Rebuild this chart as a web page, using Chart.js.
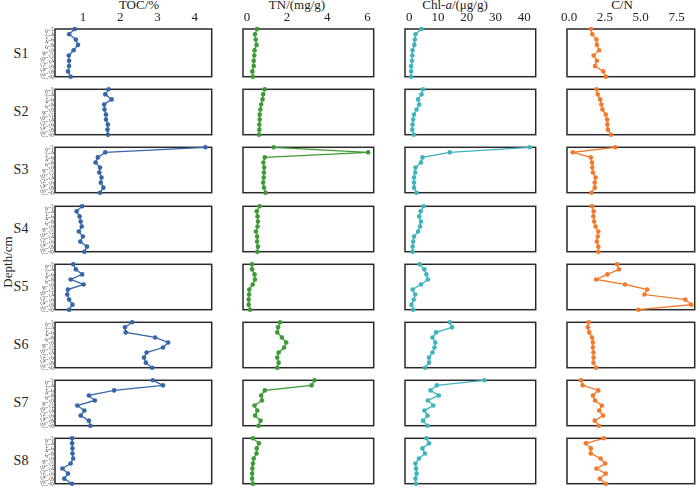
<!DOCTYPE html>
<html>
<head>
<meta charset="utf-8">
<script src="https://cdn.jsdelivr.net/npm/chart.js@4.4.1/dist/chart.umd.min.js"></script>
<style>
  body { margin: 0; background: #fff; }
  #wrap { position: relative; width: 700px; height: 488px; overflow: hidden;
          font-family: "Liberation Serif", "DejaVu Serif", serif; color: #222; }
  .panel { position: absolute; }
  .title { position: absolute; top: -3px; width: 160px; font-size: 13px; line-height: 15px; text-align: center; }
  .site { position: absolute; left: 0; width: 42px; font-size: 14px; line-height: 16px; text-align: center; }
  #ylab { position: absolute; left: -27px; top: 254px; width: 70px; height: 16px; font-size: 13px;
          line-height: 16px; text-align: center; transform: rotate(-90deg); }
</style>
</head>
<body>
<div id="wrap">
  <div class="title" style="left:59px">TOC/%</div>
  <div class="title" style="left:217px">TN/(mg/g)</div>
  <div class="title" style="left:375px">Chl-<i>a</i>/(μg/g)</div>
  <div class="title" style="left:542px">C/N</div>
  <div id="ylab">Depth/cm</div>
</div>
<script>
// depth intervals (cm) and sampling sites
const depths = ['0~2', '2~4', '4~6', '6~8', '8~10', '10~12', '12~14', '14~16', '16~18', '18~20'];
const sites = ['S1', 'S2', 'S3', 'S4', 'S5', 'S6', 'S7', 'S8'];

// TOC (%) per site, top to bottom
const tocValues = [
    [0.78, 0.63, 0.81, 0.87, 0.75, 0.62, 0.63, 0.63, 0.60, 0.67],
    [1.69, 1.60, 1.77, 1.57, 1.58, 1.62, 1.62, 1.67, 1.66, 1.67],
    [4.29, 1.60, 1.40, 1.34, 1.46, 1.44, 1.50, 1.48, 1.55, 1.46],
    [0.98, 0.83, 0.91, 0.94, 0.97, 0.89, 1.00, 0.93, 1.11, 1.04],
    [0.74, 0.81, 0.98, 0.67, 1.02, 0.60, 0.58, 0.63, 0.72, 0.63],
    [2.32, 2.13, 2.15, 2.94, 3.29, 3.15, 2.71, 2.64, 2.69, 2.86],
    [2.88, 3.15, 1.84, 1.16, 1.32, 0.85, 1.04, 0.94, 1.16, 1.20],
    [0.71, 0.71, 0.72, 0.72, 0.74, 0.67, 0.45, 0.60, 0.50, 0.71]
];

// TN (mg/g)
const tnValues = [
    [0.51, 0.40, 0.44, 0.48, 0.38, 0.37, 0.34, 0.34, 0.27, 0.29],
    [0.89, 0.81, 0.78, 0.71, 0.67, 0.64, 0.64, 0.62, 0.62, 0.60],
    [1.33, 6.03, 0.89, 0.82, 0.86, 0.85, 0.84, 0.81, 0.85, 0.93],
    [0.63, 0.49, 0.53, 0.55, 0.53, 0.45, 0.51, 0.51, 0.55, 0.52],
    [0.25, 0.26, 0.38, 0.40, 0.29, 0.12, 0.11, 0.09, 0.09, 0.16],
    [1.65, 1.55, 1.51, 1.74, 1.96, 1.85, 1.58, 1.51, 1.58, 1.51],
    [3.36, 3.22, 0.89, 0.71, 0.75, 0.38, 0.52, 0.41, 0.68, 0.58],
    [0.30, 0.60, 0.49, 0.48, 0.34, 0.30, 0.27, 0.26, 0.26, 0.30]
];

// Chl-a (ug/g)
const chlValues = [
    [4.3, 2.2, 2.0, 1.8, 1.2, 1.1, 1.0, 0.7, 0.7, 0.7],
    [4.8, 4.3, 3.1, 3.5, 2.6, 1.7, 1.4, 1.2, 1.1, 1.6],
    [41.9, 14.1, 4.6, 4.1, 2.2, 2.1, 1.7, 1.7, 1.7, 2.6],
    [5.0, 4.0, 3.5, 4.1, 3.8, 3.1, 1.7, 1.4, 1.2, 1.2],
    [3.6, 5.3, 6.0, 6.5, 4.1, 1.2, 2.1, 1.6, 0.8, 1.4],
    [14.2, 14.9, 9.4, 8.1, 9.1, 8.8, 8.1, 6.9, 6.9, 5.5],
    [26.1, 9.6, 7.4, 10.3, 6.5, 8.4, 5.3, 6.4, 4.8, 6.4],
    [6.0, 6.9, 4.6, 5.5, 3.4, 2.2, 2.4, 2.6, 2.2, 2.4]
];

// C/N
const cnValues = [
    [1.52, 1.62, 1.91, 1.94, 2.10, 1.71, 1.94, 1.81, 2.39, 2.57],
    [1.91, 2.00, 2.17, 2.25, 2.33, 2.56, 2.65, 2.67, 2.71, 2.94],
    [3.23, 0.26, 1.52, 1.60, 1.62, 1.66, 1.85, 1.79, 1.79, 1.56],
    [1.60, 1.71, 1.70, 1.75, 1.85, 2.04, 2.00, 1.94, 2.04, 2.04],
    [3.34, 3.48, 2.67, 1.89, 3.90, 5.45, 5.26, 8.11, 8.52, 4.84],
    [1.37, 1.31, 1.41, 1.60, 1.66, 1.66, 1.70, 1.71, 1.70, 1.89],
    [0.83, 0.95, 2.04, 1.66, 1.81, 2.29, 2.10, 2.37, 1.79, 2.08],
    [2.43, 1.18, 1.52, 1.51, 2.20, 2.52, 1.91, 2.56, 2.14, 2.57]
];

// top axis tick values
const tocTicks = [1, 2, 3, 4];
const tnTicks = [0, 2, 4, 6];
const chlTicks = [0, 10, 20, 30, 40];
const cnTicks = [0, 2.5, 5, 7.5];

const columns = [
    { values: tocValues, ticks: tocTicks, min: 0.251, max: 4.458, color: '#3567a8', left: 55, width: 159, fixed: false },
    { values: tnValues, ticks: tnTicks, min: -0.193, max: 6.309, color: '#3d9a35', left: 218, width: 158, fixed: false },
    { values: chlValues, ticks: chlTicks, min: -1.44, max: 43.97, color: '#3fb4bf', left: 380, width: 158, fixed: false },
    { values: cnValues, ticks: cnTicks, min: -0.144, max: 8.764, color: '#f27a2a', left: 542, width: 155, fixed: true }
];

const rowTop0 = 29;
const rowStep = 58.2;
const rowHeight = 50;
const yAxisWidth = 25;

// frame round each small plot
const boxPlugin = {
    id: 'box',
    beforeDatasetsDraw(chart) {
        const a = chart.chartArea;
        const ctx = chart.ctx;
        ctx.save();
        ctx.strokeStyle = '#2a2a2a';
        ctx.lineWidth = 1.5;
        ctx.strokeRect(a.left, a.top, a.right - a.left, a.bottom - a.top);
        ctx.restore();
    }
};

function noPadding(s) {
    s.paddingTop = 0;
    s.paddingBottom = 0;
    s.paddingLeft = 0;
    s.paddingRight = 0;
}

const wrap = document.getElementById('wrap');

sites.forEach(function(site, r) {
    const top = Math.round(rowTop0 + rowStep * r);

    const label = document.createElement('div');
    label.className = 'site';
    label.style.top = (top + rowHeight / 2 - 8) + 'px';
    label.textContent = site;
    wrap.appendChild(label);

    columns.forEach(function(col, c) {
        const div = document.createElement('div');
        div.className = 'panel';
        const divLeft = c === 0 ? col.left - yAxisWidth : col.left;
        const divTop = r === 0 ? 0 : top;
        div.style.left = divLeft + 'px';
        div.style.top = divTop + 'px';
        div.style.width = (col.left + col.width - divLeft) + 'px';
        div.style.height = (top + rowHeight - divTop) + 'px';
        const canvas = document.createElement('canvas');
        div.appendChild(canvas);
        wrap.appendChild(div);

        new Chart(canvas, {
            type: 'line',
            data: {
                labels: depths,
                datasets: [{
                    data: col.values[r],
                    borderColor: col.color,
                    backgroundColor: col.color,
                    borderWidth: 1.3,
                    pointRadius: 2.3,
                    pointHoverRadius: 2.3,
                    pointBorderWidth: 0,
                    tension: 0
                }]
            },
            options: {
                indexAxis: 'y',
                animation: false,
                responsive: true,
                maintainAspectRatio: false,
                layout: { padding: 0 },
                plugins: {
                    legend: { display: false },
                    tooltip: { enabled: false }
                },
                scales: {
                    x: {
                        type: 'linear',
                        position: 'top',
                        display: r === 0,
                        min: col.min,
                        max: col.max,
                        grid: { display: false, drawTicks: false },
                        border: { display: false },
                        afterBuildTicks: function(s) {
                            s.ticks = col.ticks.map(v => ({ value: v }));
                        },
                        ticks: {
                            color: '#222',
                            padding: 4,
                            maxRotation: 0,
                            font: { family: '"Liberation Serif", serif', size: 13 },
                            callback: v => col.fixed ? Number(v).toFixed(1) : String(v)
                        },
                        afterFit: function(s) {
                            s.height = top - divTop;
                            noPadding(s);
                        }
                    },
                    y: {
                        type: 'category',
                        display: c === 0,
                        offset: false,
                        grid: { display: false, drawTicks: false },
                        border: { display: false },
                        ticks: {
                            autoSkip: false,
                            minRotation: 20,
                            maxRotation: 20,
                            padding: 1,
                            color: '#444',
                            font: { family: '"Liberation Serif", serif', size: 6 }
                        },
                        afterFit: function(s) {
                            s.width = yAxisWidth;
                            noPadding(s);
                        }
                    }
                }
            },
            plugins: [boxPlugin]
        });
    });
});
</script>
</body>
</html>
